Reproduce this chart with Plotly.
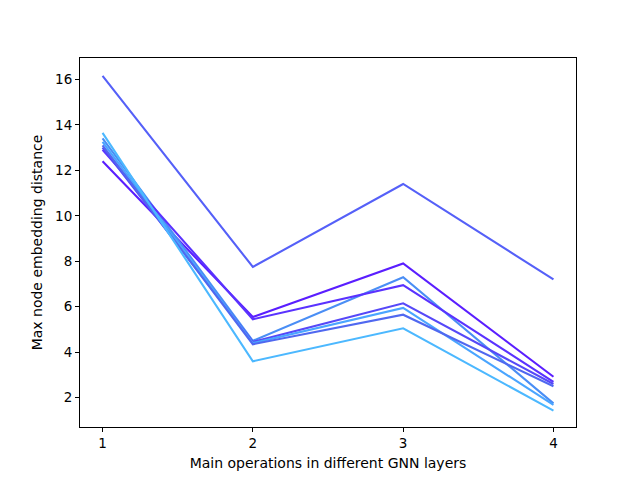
import plotly.graph_objects as go

x_vals = [1, 2, 3, 4]
series = {
    "L1": [16.15, 7.75, 11.4, 7.2],
    "L2": [12.4, 5.55, 7.9, 2.92],
    "L3": [13.4, 4.5, 7.3, 1.75],
    "L4": [12.9, 5.45, 6.95, 2.7],
    "L5": [13.0, 4.45, 6.15, 2.6],
    "L6": [13.25, 4.4, 5.95, 1.68],
    "L7": [13.1, 4.35, 5.65, 2.5],
    "L8": [13.65, 3.6, 5.05, 1.43],
}
colors = {
    "L1": "#5560f8",
    "L2": "#5a1eff",
    "L3": "#4a8ef5",
    "L4": "#5a32ff",
    "L5": "#5648f8",
    "L6": "#4aa5ff",
    "L7": "#5068f0",
    "L8": "#4cb8ff",
}
y_ticks = [2, 4, 6, 8, 10, 12, 14, 16]

fig = go.Figure()
for name, vals in series.items():
    fig.add_trace(go.Scatter(x=x_vals, y=vals, mode="lines",
                             line=dict(color=colors[name], width=2.1),
                             showlegend=False))

axis_common = dict(showline=True, linecolor="black", linewidth=1, mirror=True,
                   ticks="outside", ticklen=4, tickcolor="black", showgrid=False,
                   zeroline=False, tickfont=dict(size=13.5, color="black"))
fig.update_xaxes(range=[0.85, 4.15], tickvals=x_vals,
                 title=dict(text="Main operations in different GNN layers", font=dict(size=14, color="black"), standoff=7),
                 **axis_common)
fig.update_yaxes(range=[0.71, 16.94], tickvals=y_ticks,
                 title=dict(text="Max node embedding distance", font=dict(size=14, color="black"), standoff=9),
                 **axis_common)
fig.update_layout(width=640, height=480, plot_bgcolor="white", paper_bgcolor="white",
                  margin=dict(l=72, r=72, t=50, b=61),
                  font=dict(family="DejaVu Sans", color="black"))
fig.write_html("out.html")
